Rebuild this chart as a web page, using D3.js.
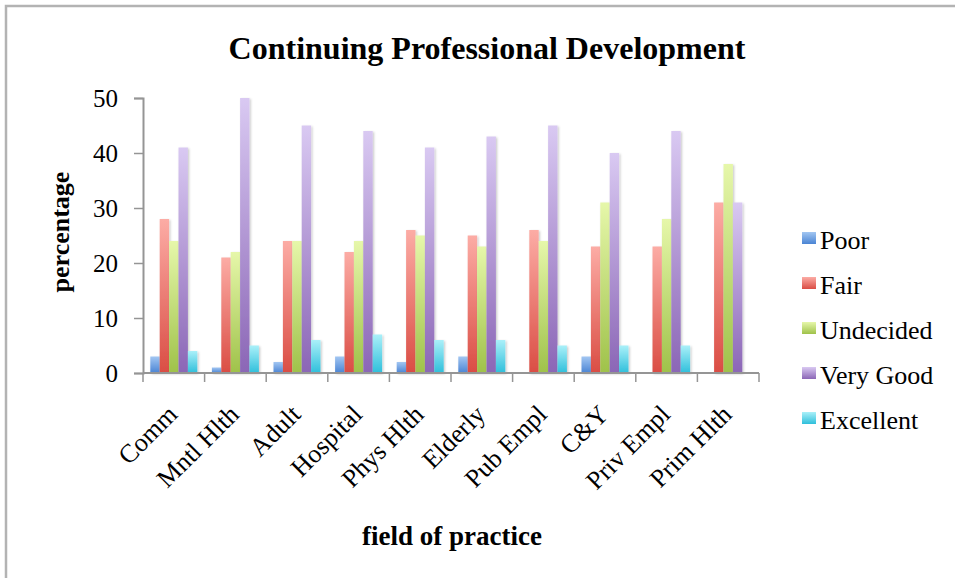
<!DOCTYPE html>
<html>
<head>
<meta charset="utf-8">
<script src="https://cdn.jsdelivr.net/npm/d3@7/dist/d3.min.js"></script>
<style>
  html, body { margin: 0; padding: 0; background: #fff; }
  svg { display: block; }
  text { font-family: "Liberation Serif", "Times New Roman", serif; fill: #000; }
</style>
</head>
<body>
<svg id="chart" width="955" height="578"></svg>
<script>
// Fields of practice (x categories)
const categories = ["Comm", "Mntl Hlth", "Adult", "Hospital", "Phys Hlth",
                    "Elderly", "Pub Empl", "C&Y", "Priv Empl", "Prim Hlth"];

// Rating series (percentage per field)
const seriesNames = ["Poor", "Fair", "Undecided", "Very Good", "Excellent"];
const poor      = [3, 1, 2, 3, 2, 3, 0, 3, 0, 0];
const fair      = [28, 21, 24, 22, 26, 25, 26, 23, 23, 31];
const undecided = [24, 22, 24, 24, 25, 23, 24, 31, 28, 38];
const veryGood  = [41, 50, 45, 44, 41, 43, 45, 40, 44, 31];
const excellent = [4, 5, 6, 7, 6, 6, 5, 5, 5, 0];

// Y axis ticks
const yTicks = [0, 10, 20, 30, 40, 50];

const seriesValues = [poor, fair, undecided, veryGood, excellent];
const seriesColors = [
  { top: "#a2c6f2", bottom: "#4a84d4" },
  { top: "#fcaca5", bottom: "#da4d44" },
  { top: "#e6f7aa", bottom: "#9fc24a" },
  { top: "#d9c9f2", bottom: "#8b66b6" },
  { top: "#aaf0f9", bottom: "#2fbfdb" }
];

const svg = d3.select("#chart");
const plot = { left: 143, right: 759, top: 98, bottom: 373 };

// outer frame (top and left edges visible)
svg.append("rect")
  .attr("x", 6).attr("y", 6).attr("width", 1200).attr("height", 1200)
  .attr("fill", "none").attr("stroke", "#b3b3b3").attr("stroke-width", 2.5);

// gradients for bars and legend swatches
const defs = svg.append("defs");
seriesColors.forEach((c, i) => {
  const g = defs.append("linearGradient")
    .attr("id", "grad" + i).attr("x1", 0).attr("y1", 0).attr("x2", 0).attr("y2", 1);
  g.append("stop").attr("offset", "0%").attr("stop-color", c.top);
  g.append("stop").attr("offset", "100%").attr("stop-color", c.bottom);
});
const shadow = defs.append("filter").attr("id", "shadow")
  .attr("x", "-20%").attr("y", "-20%").attr("width", "160%").attr("height", "140%");
shadow.append("feDropShadow").attr("dx", 1.2).attr("dy", 1).attr("stdDeviation", 0.8)
  .attr("flood-color", "#000").attr("flood-opacity", 0.22);

// scales
const x = d3.scaleBand().domain(categories)
  .range([plot.left, plot.right]).paddingInner(0.237).paddingOuter(0.1185);
const xs = d3.scaleBand().domain(seriesNames).range([0, x.bandwidth()]).padding(0);
const y = d3.scaleLinear().domain([0, 50]).range([plot.bottom, plot.top]);

// horizontal gridlines
svg.append("g").selectAll("line").data(yTicks.filter(t => t > 0)).join("line")
  .attr("x1", plot.left).attr("x2", plot.right)
  .attr("y1", d => y(d)).attr("y2", d => y(d))
  .attr("stroke", "#959595").attr("stroke-width", 2)
  .attr("filter", "url(#shadow)");

// y axis
const yAxis = svg.append("g").attr("transform", `translate(${plot.left},0)`)
  .call(d3.axisLeft(y).tickValues(yTicks).tickSize(9).tickPadding(16));
yAxis.select(".domain").attr("stroke", "#959595").attr("stroke-width", 2);
yAxis.selectAll(".tick line").attr("stroke", "#959595").attr("stroke-width", 1.5);
yAxis.selectAll(".tick text")
  .attr("font-family", "Liberation Serif, serif").attr("font-size", 25).attr("fill", "#000");

// bars
const groups = svg.append("g").selectAll("g").data(categories).join("g")
  .attr("transform", d => `translate(${x(d)},0)`);
groups.selectAll("rect")
  .data((c, ci) => seriesNames.map((s, si) => ({ s, si, v: seriesValues[si][ci] })).filter(d => d.v > 0))
  .join("rect")
  .attr("x", d => xs(d.s))
  .attr("width", xs.bandwidth())
  .attr("y", d => y(d.v))
  .attr("height", d => y(0) - y(d.v))
  .attr("fill", d => `url(#grad${d.si})`)
  .attr("filter", "url(#shadow)");

// x axis baseline with boundary ticks
const step = x.step();
const boundaries = categories.map(c => x(c) - step * x.paddingInner() / 2)
  .concat([plot.right]);
const xAxisG = svg.append("g");
xAxisG.append("line")
  .attr("x1", plot.left).attr("x2", plot.right)
  .attr("y1", plot.bottom).attr("y2", plot.bottom)
  .attr("stroke", "#959595").attr("stroke-width", 2);
xAxisG.selectAll("line.tk").data(boundaries).join("line").attr("class", "tk")
  .attr("x1", d => d).attr("x2", d => d)
  .attr("y1", plot.bottom).attr("y2", plot.bottom + 9)
  .attr("stroke", "#959595").attr("stroke-width", 1.5);

// category labels, rotated
xAxisG.selectAll("text").data(categories).join("text")
  .attr("transform", d => `translate(${x(d) + x.bandwidth() / 2 + 5},${plot.bottom + 43}) rotate(-45)`)
  .attr("text-anchor", "end")
  .attr("font-size", 26)
  .text(d => d);

// titles
svg.append("text").attr("x", 487).attr("y", 59)
  .attr("text-anchor", "middle").attr("font-size", 32).attr("font-weight", "bold")
  .text("Continuing Professional Development");
svg.append("text").attr("x", 452).attr("y", 545)
  .attr("text-anchor", "middle").attr("font-size", 27).attr("font-weight", "bold")
  .text("field of practice");
svg.append("text").attr("transform", "translate(69,232) rotate(-90)")
  .attr("text-anchor", "middle").attr("font-size", 26).attr("font-weight", "bold")
  .text("percentage");

// legend
const legend = svg.append("g").selectAll("g").data(seriesNames).join("g")
  .attr("transform", (d, i) => `translate(802,${249 + i * 45})`);
legend.append("rect").attr("x", 0).attr("y", -17).attr("width", 14).attr("height", 12)
  .attr("fill", (d, i) => `url(#grad${i})`);
legend.append("text").attr("x", 18).attr("y", 0).attr("font-size", 26).text(d => d);
</script>
</body>
</html>
